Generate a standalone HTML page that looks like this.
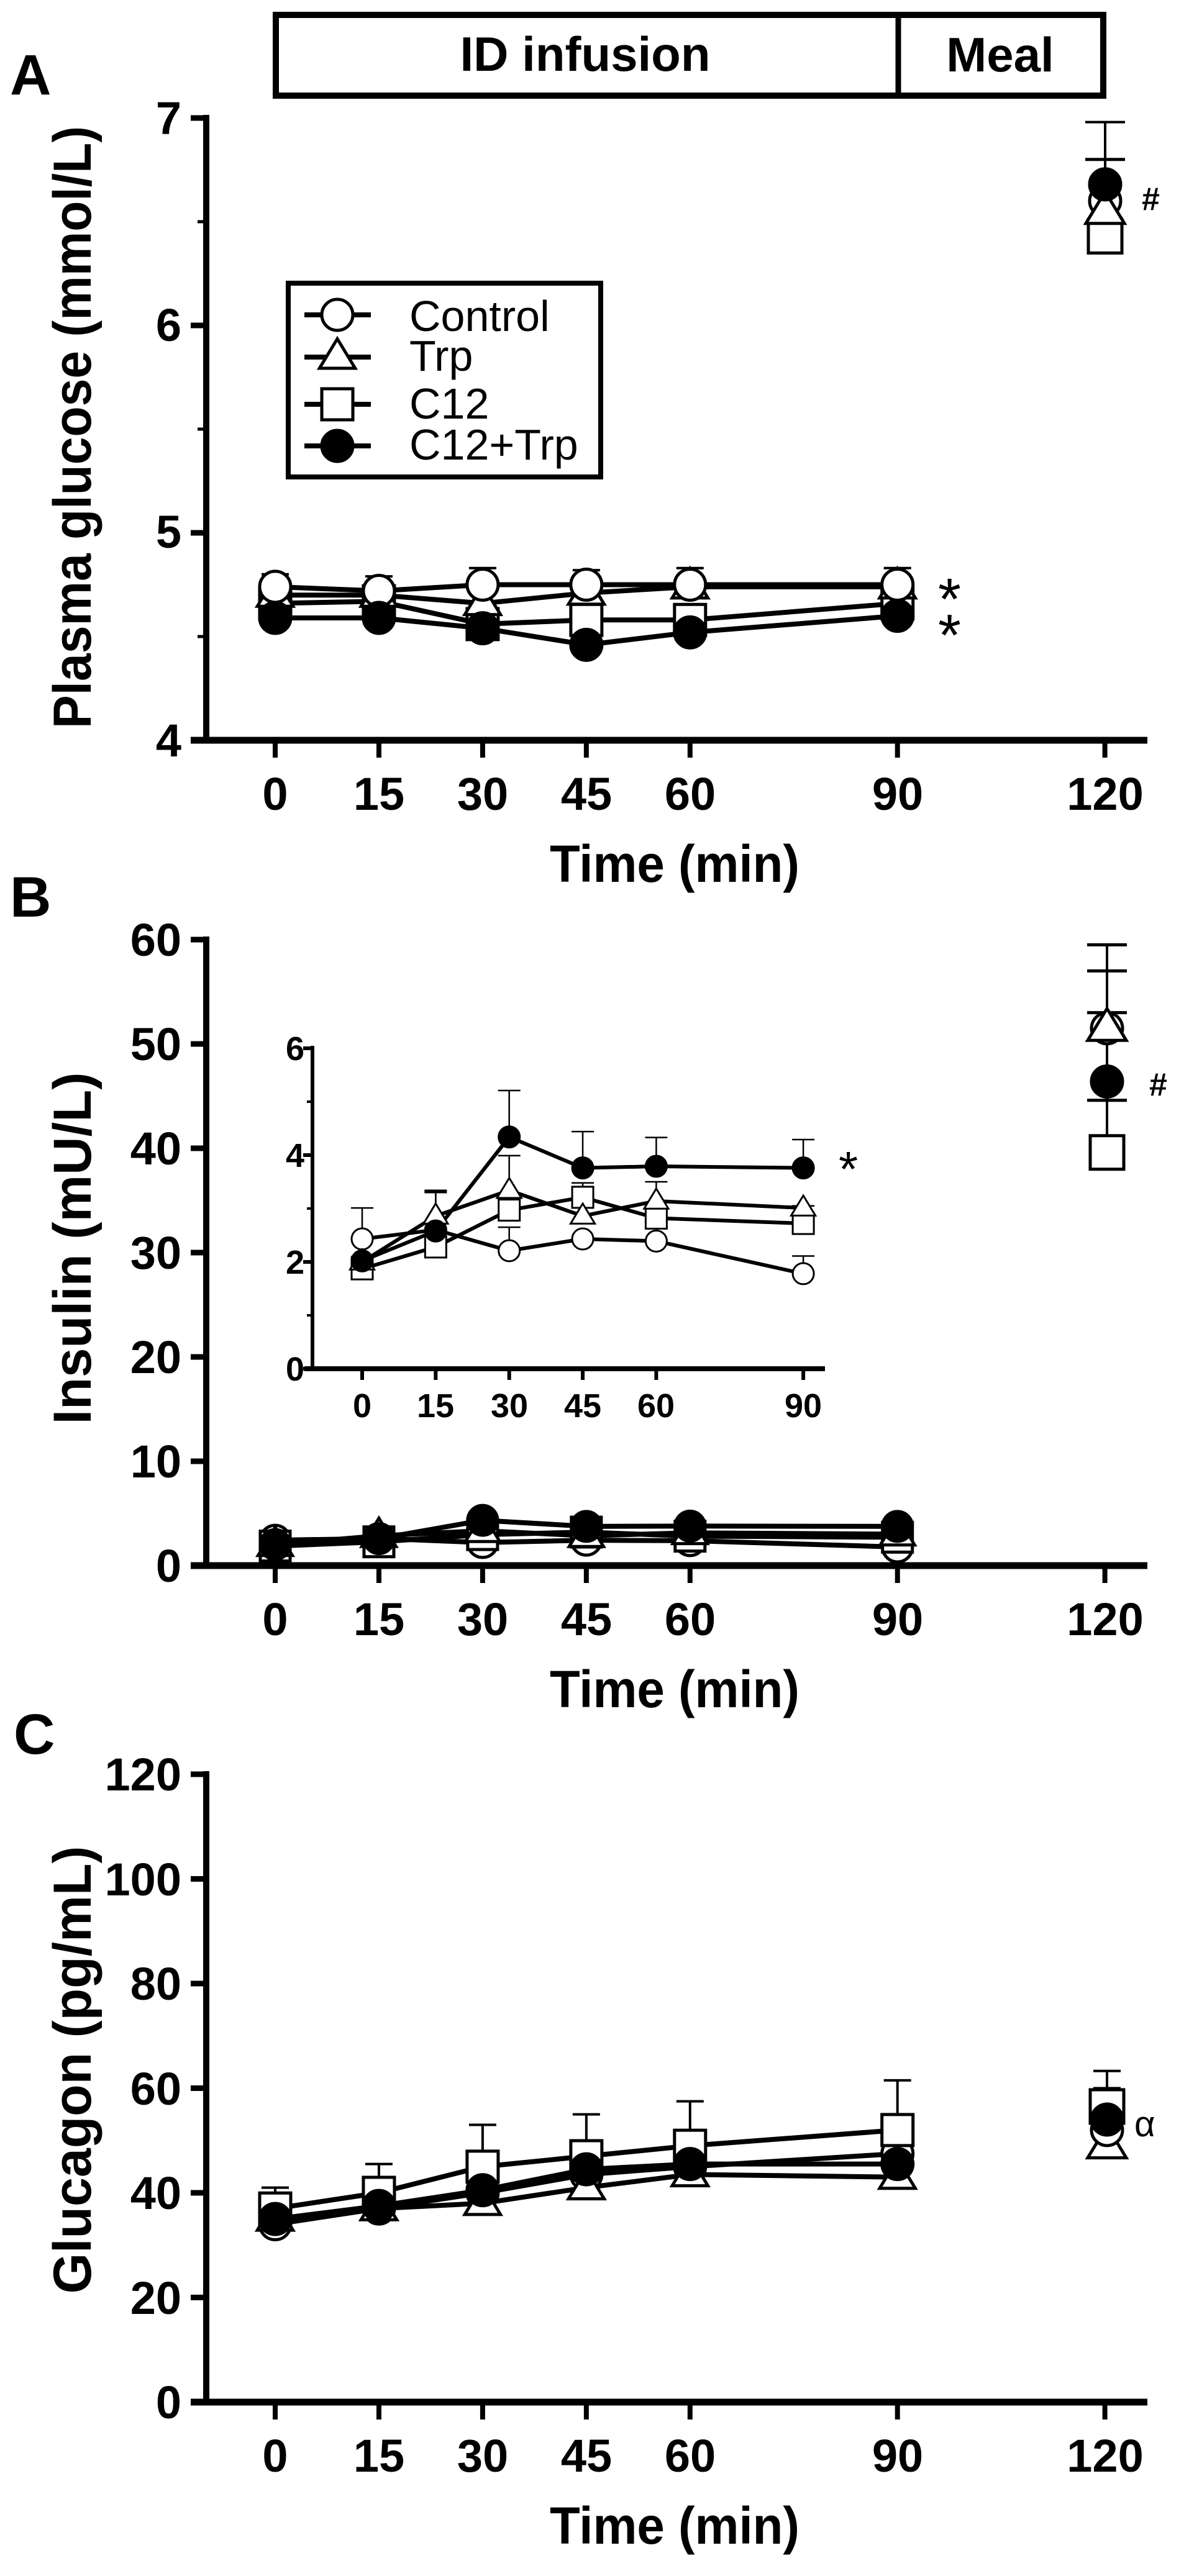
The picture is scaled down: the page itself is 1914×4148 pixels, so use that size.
<!DOCTYPE html>
<html><head><meta charset="utf-8"><style>
html,body{margin:0;padding:0;background:#fff}
svg{display:block}
text{font-family:"Liberation Sans",Arial,sans-serif;font-weight:bold;fill:#000}
text.n{font-weight:normal}
</style></head><body>
<svg id="s" width="1914" height="4148" viewBox="0 0 1914 4148" xmlns="http://www.w3.org/2000/svg">
<rect width="1914" height="4148" fill="#fff"/>
<text x="16" y="152" font-size="92">A</text>
<text x="16" y="1476" font-size="92">B</text>
<text x="22" y="2824" font-size="92">C</text>
<rect x="444" y="24" width="1332" height="130" fill="none" stroke="#000" stroke-width="10"/>
<line x1="1446" y1="24" x2="1446" y2="154" stroke="#000" stroke-width="9"/>
<text x="942" y="114" font-size="78" text-anchor="middle">ID infusion</text>
<text x="1610" y="115" font-size="78" text-anchor="middle">Meal</text>

<text transform="translate(146,688) rotate(-90)" font-size="86" text-anchor="middle" textLength="970" lengthAdjust="spacingAndGlyphs">Plasma glucose (mmol/L)</text>
<text transform="translate(146,2010) rotate(-90)" font-size="86" text-anchor="middle" textLength="567" lengthAdjust="spacingAndGlyphs">Insulin (mU/L)</text>
<text transform="translate(146,3333) rotate(-90)" font-size="86" text-anchor="middle" textLength="721" lengthAdjust="spacingAndGlyphs">Glucagon (pg/mL)</text>
<text x="1086" y="1420" font-size="84" text-anchor="middle" textLength="402" lengthAdjust="spacingAndGlyphs">Time (min)</text>
<text x="1086" y="2749" font-size="84" text-anchor="middle" textLength="402" lengthAdjust="spacingAndGlyphs">Time (min)</text>
<text x="1086" y="4096" font-size="84" text-anchor="middle" textLength="402" lengthAdjust="spacingAndGlyphs">Time (min)</text>

<g font-size="74" text-anchor="end">
<text x="292" y="216">7</text><text x="292" y="549">6</text><text x="292" y="882">5</text><text x="292" y="1218">4</text>
<text x="292" y="1539">60</text><text x="292" y="1707">50</text><text x="292" y="1875">40</text><text x="292" y="2043">30</text><text x="292" y="2211">20</text><text x="292" y="2379">10</text><text x="292" y="2547">0</text>
<text x="292" y="2883">120</text><text x="292" y="3052">100</text><text x="292" y="3220">80</text><text x="292" y="3389">60</text><text x="292" y="3557">40</text><text x="292" y="3726">20</text><text x="292" y="3894">0</text>
</g>
<g font-size="74" text-anchor="middle">
<text x="443" y="1304">0</text><text x="610" y="1304">15</text><text x="777" y="1304">30</text><text x="944" y="1304">45</text><text x="1111" y="1304">60</text><text x="1445" y="1304">90</text><text x="1779" y="1304">120</text>
<text x="443" y="2633">0</text><text x="610" y="2633">15</text><text x="777" y="2633">30</text><text x="944" y="2633">45</text><text x="1111" y="2633">60</text><text x="1445" y="2633">90</text><text x="1779" y="2633">120</text>
<text x="443" y="3980">0</text><text x="610" y="3980">15</text><text x="777" y="3980">30</text><text x="944" y="3980">45</text><text x="1111" y="3980">60</text><text x="1445" y="3980">90</text><text x="1779" y="3980">120</text>
</g>
<g font-size="54" text-anchor="end">
<text x="490" y="1707">6</text><text x="490" y="1879">4</text><text x="490" y="2051">2</text><text x="490" y="2223">0</text>
</g>
<g font-size="54" text-anchor="middle">
<text x="583" y="2282">0</text><text x="701" y="2282">15</text><text x="820" y="2282">30</text><text x="938" y="2282">45</text><text x="1056" y="2282">60</text><text x="1293" y="2282">90</text>
</g>

<rect x="464" y="456" width="503" height="312" fill="#fff" stroke="#000" stroke-width="8"/>
<g font-size="70">
<text class="n" x="659" y="533">Control</text>
<text class="n" x="659" y="597">Trp</text>
<text class="n" x="659" y="674">C12</text>
<text class="n" x="659" y="740">C12+Trp</text>
</g>
<text class="n" x="1510" y="997" font-size="95">*</text>
<text class="n" x="1510" y="1055" font-size="95">*</text>
<text x="1838" y="338" font-size="52">#</text>
<text class="n" x="1350" y="1910" font-size="80">*</text>
<text x="1850" y="1764" font-size="52">#</text>
<text class="n" x="1826" y="3440" font-size="58" font-family="DejaVu Sans, sans-serif">α</text>

<g id="g"></g>
</svg>
<script>
(function(){
var g=document.getElementById('g'),out="";
function L(x1,y1,x2,y2,w){out+='<line x1="'+x1+'" y1="'+y1+'" x2="'+x2+'" y2="'+y2+'" stroke="#000" stroke-width="'+w+'" stroke-linecap="butt"/>';}
function mk(type,x,y,r,sw){
 if(type=='c')out+='<circle cx="'+x+'" cy="'+y+'" r="'+r+'" fill="#fff" stroke="#000" stroke-width="'+sw+'"/>';
 else if(type=='f')out+='<circle cx="'+x+'" cy="'+y+'" r="'+r+'" fill="#000" stroke="#000" stroke-width="'+sw+'"/>';
 else if(type=='s')out+='<rect x="'+(x-r)+'" y="'+(y-r)+'" width="'+2*r+'" height="'+2*r+'" fill="#fff" stroke="#000" stroke-width="'+sw+'"/>';
 else if(type=='t'){var h=r*1.9,w=r*1.15;out+='<polygon points="'+x+','+(y-h*0.62)+' '+(x+w)+','+(y+h*0.38)+' '+(x-w)+','+(y+h*0.38)+'" fill="#fff" stroke="#000" stroke-width="'+sw+'"/>';}
}
var T=[0,15,30,45,60,90];
function X(t){return 443+t*11.13;}
function axes(top,bot,ticks,minor){
 L(332,top-5,332,bot+5,10); L(307,bot,1847,bot,11);
 ticks.forEach(function(y){L(307,y,332,y,9);});
 (minor||[]).forEach(function(y){L(318,y,332,y,5);});
 T.concat([120]).forEach(function(t){L(X(t),bot,X(t),bot+28,8);});
}
axes(190,1192,[190,524,858,1192],[357,691,1025]);
var bT=[];for(var i=0;i<=6;i++)bT.push(1513+i*168);
axes(1513,2521,bT);
var cT=[];for(var i=0;i<=6;i++)cT.push(2857+i*168.5);
axes(2857,3868,cT);
L(503,1684,503,2208,6);L(490,2204,1328,2204,8);
[1688,1860,2032,2204].forEach(function(y){L(488,y,503,y,6);});
[1774,1946,2118].forEach(function(y){L(494,y,503,y,4);});
[0,15,30,45,60,90].forEach(function(t){L(583+t*7.89,2204,583+t*7.89,2222,6);});

function series(data,xf,yf,type,r,lw){
 var p=data.map(function(v,i){return xf(T[i])+','+yf(v);}).join(' ');
 out+='<polyline points="'+p+'" fill="none" stroke="#000" stroke-width="'+lw+'" stroke-linejoin="round"/>';
}
function marks(data,xf,yf,type,r,sw){data.forEach(function(v,i){mk(type,xf(T[i]),yf(v),r,sw);});}
function err(x,y1,y2,w,cw){L(x,y1,x,y2,w);L(x-cw,y2,x+cw,y2,w);}

var yA=function(v){return 1192-(v-4)*334;};
var A={c:[4.74,4.72,4.75,4.75,4.75,4.75],t:[4.70,4.70,4.66,4.71,4.74,4.74],s:[4.66,4.67,4.56,4.58,4.58,4.66],f:[4.59,4.59,4.54,4.46,4.52,4.60]};
var Aerr=[4.80,4.79,4.83,4.82,4.83,4.83];
T.forEach(function(t,i){err(X(t),yA(A.c[i]),yA(Aerr[i]),4,22);});
['c','t','s','f'].forEach(function(k){series(A[k],X,yA,k,25,8);});
['s','t','c','f'].forEach(function(k){marks(A[k],X,yA,k,25,5);});
err(1779,yA(6.45),yA(6.98),4,32);L(1747,yA(6.80),1811,yA(6.80),5);
mk('s',1779,yA(6.43),27,5);mk('c',1779,yA(6.6),25,5);mk('t',1779,yA(6.55),27,5);mk('f',1779,yA(6.68),25,5);

var yB=function(v){return 2521-v*16.8;};
var B={c:[2.43,2.6,2.21,2.43,2.39,1.78],t:[2.0,2.86,3.34,2.86,3.14,3.01],s:[1.87,2.28,2.97,3.21,2.82,2.72],f:[2.02,2.58,4.34,3.76,3.79,3.76]};
['c','t','s','f'].forEach(function(k){series(B[k],X,yB,k,25,8);});
['c','s','t','f'].forEach(function(k){marks(B[k],X,yB,k,24,5);});
L(1782,yB(39.6),1782,yB(59.5),4);
[59.5,57,53,44.6].forEach(function(v){L(1750,yB(v),1814,yB(v),5);});
mk('s',1782,yB(39.6),27,5);mk('c',1782,yB(51.5),25,5);mk('t',1782,yB(51.5),27,5);mk('f',1782,yB(46.4),25,5);

var xi=function(t){return 583+t*7.89;},yi=function(v){return 2204-v*86;};
var Ie={f:[[2,5.21],[3,4.44],[4,4.33],[5,4.29],[1,3.3]],t:[[1,3.32],[2,3.99],[4,3.5],[5,3.05]],s:[[1,3.34],[3,3.48],[0,2.1]],c:[[0,3.01],[2,2.65],[5,2.11]]};
Object.keys(Ie).forEach(function(k){Ie[k].forEach(function(e){err(xi(T[e[0]]),yi(B[k][e[0]]),yi(e[1]),2.5,18);});});
['c','t','s','f'].forEach(function(k){series(B[k],xi,yi,k,17,6);});
['c','s','t','f'].forEach(function(k){marks(B[k],xi,yi,k,17,3);});

var yC=function(v){return 3868-v*8.425;};
var C={s:[37,40,45,47,49,52],f:[35,37.5,40.5,44.5,45.5,45.5],c:[34,37,40,43.5,45,47.5],t:[35,37,38,41,43.5,43]};
var Ce=[41,45.5,53,55,57.5,61.5];
T.forEach(function(t,i){err(X(t),yC(C.s[i]),yC(Ce[i]),4,22);});
L(X(0)-22,yC(40),X(0)+22,yC(40),4);L(X(0)-22,yC(39.2),X(0)+22,yC(39.2),4);
['s','c','t','f'].forEach(function(k){series(C[k],X,yC,k,25,8);});
['c','t','s','f'].forEach(function(k){marks(C[k],X,yC,k,25,5);});
err(1782,yC(57),yC(63.3),4,22);L(1760,yC(60),1804,yC(60),4);
mk('t',1782,yC(49),27,5);mk('c',1782,yC(52),25,5);mk('s',1782,yC(56.5),27,5);mk('f',1782,yC(54),25,5);

var ly=[507,575,651,718],lt=['c','t','s','f'];
ly.forEach(function(y,i){L(490,y,597,y,8);mk(lt[i],543,y,25,5);});

g.innerHTML=out;
})();
</script>
</body></html>
